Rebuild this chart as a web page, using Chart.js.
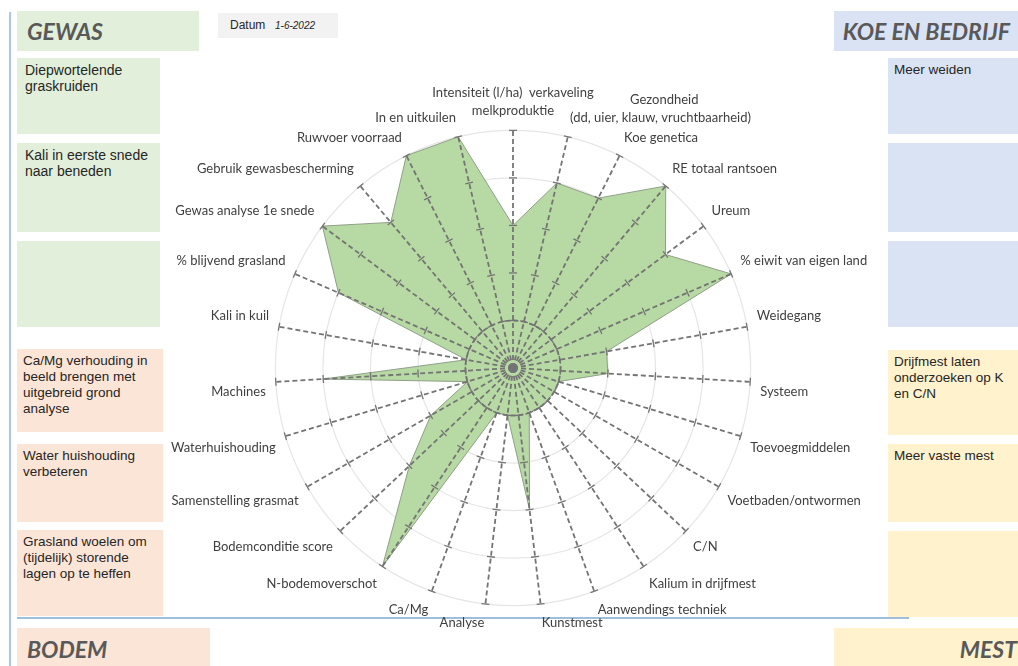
<!DOCTYPE html>
<html>
<head>
<meta charset="utf-8">
<script src="https://cdn.jsdelivr.net/npm/chart.js@4.4.0/dist/chart.umd.min.js"></script>
<style>
  body { margin: 0; width: 1018px; height: 666px; overflow: hidden; background: #fff; position: relative; font-family: "Liberation Sans", Arial, sans-serif; }
  .box { position: absolute; box-sizing: border-box; padding: 4px 6px; font-size: 13.5px; line-height: 16px; color: #262626; }
  .green { background: #e2efda; left: 17px; width: 143px; padding-left: 8px; font-size: 14px; }
  .peach { background: #fbe5d6; left: 17px; width: 146px; }
  .blue { background: #dae3f3; left: 888px; width: 130px; }
  .yellow { background: #fff2cc; left: 888px; width: 130px; }
  .head { position: absolute; box-sizing: border-box; font-family: Lato, sans-serif; font-weight: bold; font-style: italic; font-size: 23px; color: #595959; }
  #chartBox { position: absolute; left: 103px; top: 74px; }
</style>
</head>
<body>
<div style="position:absolute;left:9px;top:12px;width:2px;height:654px;background:#a9c8e8"></div>
<div style="position:absolute;left:17px;top:617px;width:892px;height:1.5px;background:#9dbfdc"></div>

<div class="head" style="left:17px;top:11px;width:182px;height:40px;background:#e2efda;padding:6px 0 0 10px">GEWAS</div>
<div class="head" style="left:834px;top:11px;width:184px;height:40px;background:#dae3f3;padding:6px 8px 0 0;text-align:right">KOE EN BEDRIJF</div>
<div class="head" style="left:17px;top:628px;width:193px;height:50px;background:#fbe5d6;padding:7px 0 0 10px">BODEM</div>
<div class="head" style="left:834px;top:628px;width:184px;height:50px;background:#fff2cc;padding:7px 1px 0 0;text-align:right">MEST</div>

<div style="position:absolute;left:218px;top:13px;width:120px;height:25px;background:#f2f2f2;font-size:12px;color:#262626">
  <span style="position:absolute;left:12px;top:5px">Datum</span>
  <span style="position:absolute;left:57px;top:7px;font-size:10px;font-style:italic">1-6-2022</span>
</div>

<div class="box green" style="top:58px;height:76px">Diepwortelende graskruiden</div>
<div class="box green" style="top:143px;height:89px">Kali in eerste snede naar beneden</div>
<div class="box green" style="top:241px;height:86px"></div>

<div class="box peach" style="top:349px;height:83px">Ca/Mg verhouding in beeld brengen met uitgebreid grond analyse</div>
<div class="box peach" style="top:444px;height:78px">Water huishouding verbeteren</div>
<div class="box peach" style="top:530px;height:86px">Grasland woelen om (tijdelijk) storende lagen op te heffen</div>

<div class="box blue" style="top:58px;height:76px">Meer weiden</div>
<div class="box blue" style="top:143px;height:89px"></div>
<div class="box blue" style="top:241px;height:86px"></div>

<div class="box yellow" style="top:350px;height:85px">Drijfmest laten onderzoeken op K en C/N</div>
<div class="box yellow" style="top:444px;height:78px">Meer vaste mest</div>
<div class="box yellow" style="top:531px;height:86px"></div>

<div id="chartBox"><canvas id="radarChart" width="820" height="569"></canvas></div>

<script>
const categories = [
    ['Intensiteit (l/ha)  verkaveling', 'melkproduktie'],
    ['                  Gezondheid', '(dd, uier, klauw, vruchtbaarheid)'],
    'Koe genetica',
    'RE totaal rantsoen',
    'Ureum',
    '% eiwit van eigen land',
    'Weidegang',
    'Systeem',
    'Toevoegmiddelen',
    'Voetbaden/ontwormen',
    'C/N',
    'Kalium in drijfmest',
    'Aanwendings techniek',
    'Kunstmest',
    'Analyse',
    'Ca/Mg',
    'N-bodemoverschot',
    'Bodemconditie score',
    'Samenstelling grasmat',
    'Waterhuishouding',
    'Machines',
    'Kali in kuil',
    '% blijvend grasland',
    'Gewas analyse 1e snede',
    'Gebruik gewasbescherming',
    'Ruwvoer voorraad',
    'In en uitkuilen'
];
const scores = [3, 4, 4, 5, 4, 5, 2, 2, 1, 1, 1, 1, 1, 3, 1, 1, 5, 3, 2, 1, 4, 1, 4, 5, 4, 5, 5];
const scaleTicks = [1, 2, 3, 4, 5];

// dashed spokes, tick crosses and the inner ring, drawn over the fill like in Excel
const axisMarks = {
    id: 'axisMarks',
    afterDatasetsDraw(chart) {
        const r = chart.scales.r;
        const ctx = chart.ctx;
        const maxVal = scaleTicks[scaleTicks.length - 1];
        ctx.save();
        ctx.strokeStyle = '#747474';
        ctx.lineWidth = 1.8;
        ctx.setLineDash([5, 3]);
        categories.forEach((c, i) => {
            const end = r.getPointPositionForValue(i, maxVal);
            ctx.beginPath();
            ctx.moveTo(r.xCenter, r.yCenter);
            ctx.lineTo(end.x, end.y);
            ctx.stroke();
        });
        ctx.beginPath();
        ctx.arc(r.xCenter, r.yCenter, r.getDistanceFromCenterForValue(scaleTicks[0]), 0, Math.PI * 2);
        ctx.stroke();

        ctx.setLineDash([]);
        ctx.lineWidth = 1.3;
        categories.forEach((c, i) => {
            scaleTicks.forEach(v => {
                const p = r.getPointPositionForValue(i, v);
                const nx = -Math.sin(p.angle) * 4;
                const ny = Math.cos(p.angle) * 4;
                ctx.beginPath();
                ctx.moveTo(p.x - nx, p.y - ny);
                ctx.lineTo(p.x + nx, p.y + ny);
                ctx.stroke();
            });
        });
        ctx.restore();
    }
};

const ctx = document.getElementById('radarChart').getContext('2d');
const radarChart = new Chart(ctx, {
    type: 'radar',
    data: {
        labels: categories,
        datasets: [{
            label: 'Score',
            data: scores,
            backgroundColor: '#b7d9a3',
            borderColor: '#8f9f88',
            borderWidth: 1,
            fill: true,
            pointRadius: 0
        }]
    },
    options: {
        responsive: false,
        animation: false,
        scales: {
            r: {
                min: 0,
                max: 5,
                ticks: { display: false, stepSize: 1 },
                grid: { circular: true, color: '#e6e6e6', lineWidth: 1.2 },
                angleLines: { display: false },
                pointLabels: {
                    color: '#3f3f3f',
                    padding: 10,
                    font: { family: 'Lato', size: 13, lineHeight: 1.4 }
                }
            }
        },
        plugins: {
            legend: { display: false },
            tooltip: { enabled: false }
        }
    },
    plugins: [axisMarks]
});
</script>
</body>
</html>
